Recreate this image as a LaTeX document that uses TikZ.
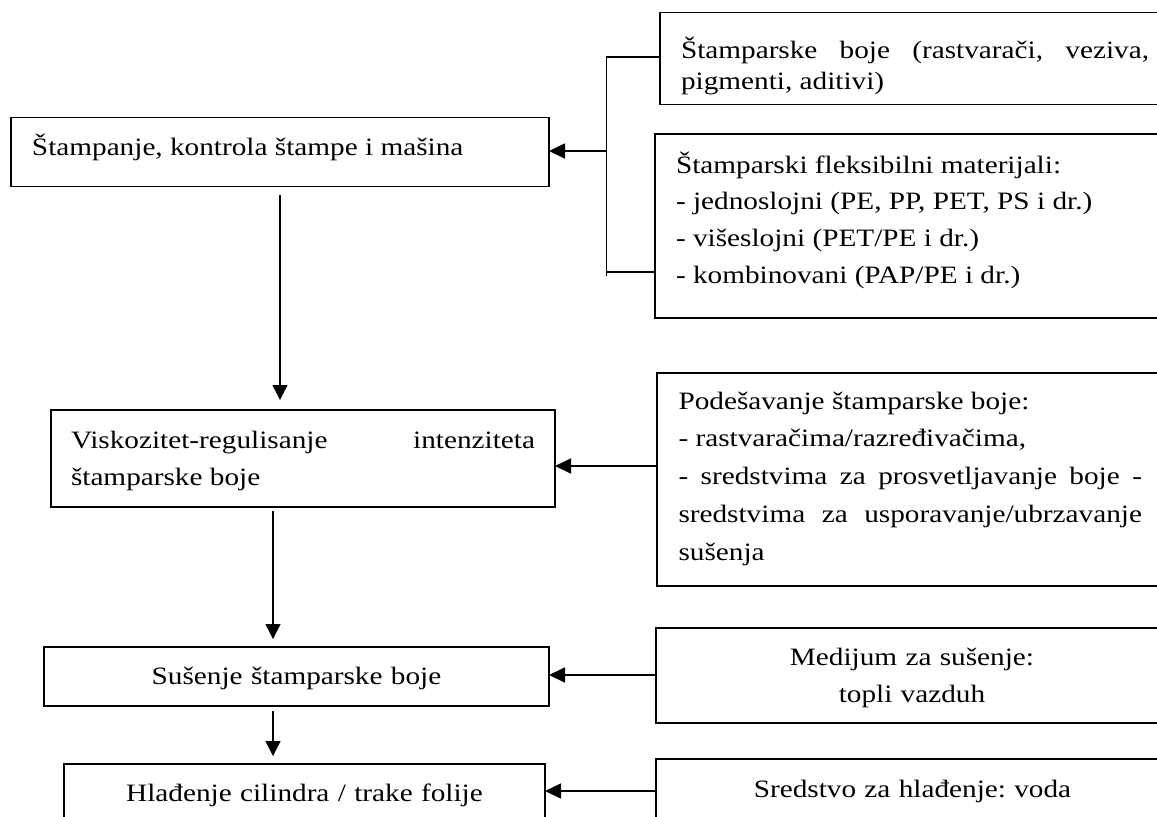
\documentclass[tikz,border=0pt]{standalone}
\usepackage{fontspec}
\setmainfont{Liberation Serif}[FakeStretch=1.17]
\usetikzlibrary{arrows.meta}
\tolerance=10000 \hyphenpenalty=10000 \exhyphenpenalty=10000
\frenchspacing

\begin{document}
\begin{tikzpicture}[x=0.5pt, y=-0.5pt,
                every node/.style={anchor=north west, outer sep=0pt, inner ysep=0pt, inner xsep=10.5pt,
                                   font=\fontsize{12.5pt}{18.9pt}\selectfont},
                bx/.style={draw, line width=0.85pt},
                jt/.style={align=justify},
                ct/.style={align=center},
                hr/.style={line width=0.85pt, -{Triangle[length=8pt, width=7.5pt]}},
                vr/.style={line width=0.65pt, -{Triangle[length=7.5pt, width=7.5pt]}},
                ln/.style={line width=0.75pt}]

    \useasboundingbox (0,0) rectangle (1157,816); % pixel grid of the page

    % left column
    \node [bx, jt, text width=248pt, text height=19pt, text depth=15.5pt] (a) at (11,117.5)
        {Štampanje, kontrola štampe i mašina};
    \node [bx, jt, inner xsep=10pt, text width=232pt, text height=19pt, text depth=29.5pt,
           font=\fontsize{12.5pt}{18.5pt}\selectfont] (v) at (51,410)
        {Viskozitet-regulisanje intenziteta\linebreak štamparske boje};
    \node [bx, ct, text width=231.5pt, text height=18.5pt, text depth=11pt] (s) at (44,647)
        {Sušenje štamparske boje};
    \node [bx, ct, text width=219.5pt, text height=18.5pt, text depth=20pt] (h) at (64,764)
        {Hlađenje cilindra / trake folije};

    % right column
    \node [bx, jt, text width=234pt, text height=23pt, text depth=23pt,
           font=\fontsize{12.5pt}{15.5pt}\selectfont] (b1) at (660,12.5)
        {Štamparske boje (rastvarači, veziva,\linebreak pigmenti, aditivi)};
    \node [bx, jt, text width=234pt, text height=19.5pt, text depth=72.5pt,
           font=\fontsize{12.5pt}{18.35pt}\selectfont] (b2) at (655,134)
        {Štamparski fleksibilni materijali:\par
         - jednoslojni (PE, PP, PET, PS i dr.)\par
         - višeslojni (PET/PE i dr.)\par
         - kombinovani (PAP/PE i dr.)};
    \node [bx, jt, inner xsep=10.75pt, text width=231.75pt, text height=18pt, text depth=88.5pt] (p) at (657,373)
        {Podešavanje štamparske boje:\par
         - rastvaračima/razređivačima,\par
         - sredstvima za prosvetljavanje boje -\linebreak
         sredstvima za usporavanje/ubrzavanje\linebreak sušenja};
    \node [bx, ct, text width=235pt, text height=18.5pt, text depth=29pt] (m) at (656,628)
        {Medijum za sušenje:\par topli vazduh};
    \node [bx, ct, text width=235.5pt, text height=19pt, text depth=20pt] (w) at (656,759)
        {Sredstvo za hlađenje: voda};

    % bracket joining the two top boxes
    \coordinate (jt) at (606.5,57);
    \coordinate (jm) at (606.5,151);
    \coordinate (jb) at (606.5,272);
    \coordinate (je) at (606.5,276);
    \draw [ln] (jt -| b1.west) -- (jt) -- (je);
    \draw [ln] (jb) -- (jb -| b2.west);
    \draw [hr] (jm) -- (jm -| a.east);

    % flow downwards
    \coordinate (xl) at (273,0);
    \draw [vr, shorten <=4pt, shorten >=5pt] (a.south) -- (a.south |- v.north);
    \draw [vr, shorten <=2pt, shorten >=4pt] (v.south -| xl) -- (s.north -| xl);
    \draw [vr, shorten <=2.5pt, shorten >=4pt] (s.south -| xl) -- (h.north -| xl);

    % inputs from the right
    \coordinate (yv) at (0,466);
    \coordinate (ys) at (0,675);
    \coordinate (yh) at (0,791);
    \draw [hr] (p.west |- yv) -- (v.east |- yv);
    \draw [hr] (m.west |- ys) -- (s.east |- ys);
    \draw [hr] (w.west |- yh) -- (h.east |- yh);

\end{tikzpicture}
\end{document}
